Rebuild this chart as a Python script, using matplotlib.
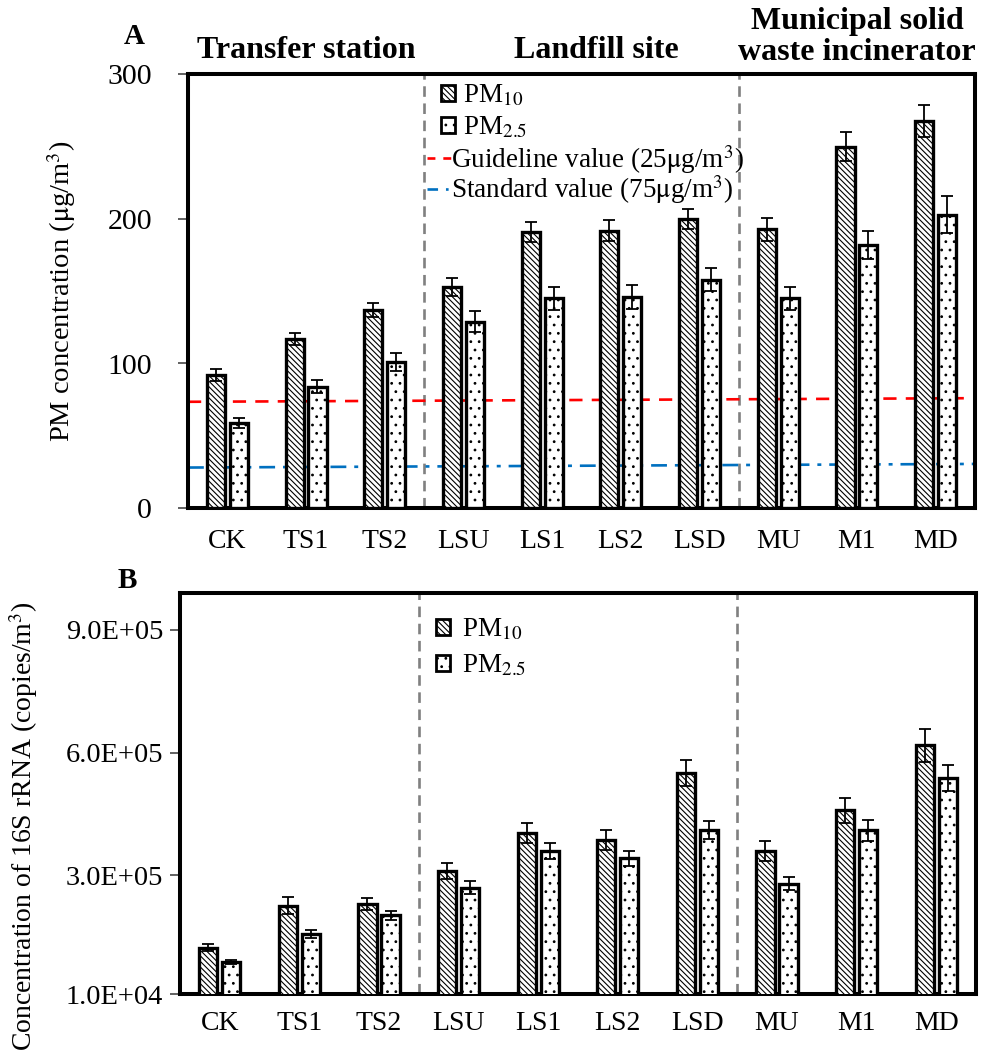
import matplotlib
matplotlib.use("Agg")
import matplotlib.pyplot as plt
import numpy as np
from matplotlib.patches import Patch
from matplotlib.lines import Line2D
from matplotlib.ticker import FixedLocator, FuncFormatter

plt.rcParams['font.family'] = ['Liberation Serif', 'DejaVu Serif']
plt.rcParams['mathtext.fontset'] = 'stix'
plt.rcParams['hatch.linewidth'] = 0.8

categories = ["CK", "TS1", "TS2", "LSU", "LS1", "LS2", "LSD", "MU", "M1", "MD"]

pm10_conc = [92, 117, 137, 153, 191, 192, 200, 193, 250, 268]
pm10_conc_err = [4, 4, 5, 6, 7, 7, 7, 8, 10, 11]
pm25_conc = [59, 84, 101, 129, 145, 146, 158, 145, 182, 203]
pm25_conc_err = [3.5, 4.5, 6, 7, 8, 8, 8, 8, 10, 13]

guideline_line = [73.5, 76]
standard_line = [28, 30.5]

pm10_rrna = [1.23e5, 2.26e5, 2.30e5, 3.10e5, 4.03e5, 3.86e5, 5.50e5, 3.60e5, 4.59e5, 6.18e5]
pm10_rrna_err = [8e3, 2e4, 1.5e4, 2e4, 2.5e4, 2.5e4, 3.2e4, 2.5e4, 3e4, 4e4]
pm25_rrna = [8.9e4, 1.56e5, 2.02e5, 2.70e5, 3.59e5, 3.42e5, 4.10e5, 2.80e5, 4.10e5, 5.38e5]
pm25_rrna_err = [5e3, 1e4, 1e4, 1.5e4, 2e4, 1.8e4, 2.2e4, 1.5e4, 2.5e4, 3.2e4]

rrna_ticks = [1.0e4, 3.0e5, 6.0e5, 9.0e5]

site_titles = ["Transfer station", "Landfill site", "Municipal solid\nwaste incinerator"]

W, H = 981, 1054
fig = plt.figure(figsize=(W / 100, H / 100), dpi=100)

def ax_rect(l, t, r, b):
    return [l / W, 1 - b / H, (r - l) / W, (b - t) / H]

def fpt(px, py):
    return (px / W, 1 - py / H)

axA = fig.add_axes(ax_rect(188, 74.5, 975, 508))
axB = fig.add_axes(ax_rect(180, 593, 976, 994))

x = np.arange(len(categories))
bw = 0.23
off = 0.145
HATCH10 = '\\\\\\\\\\\\'
HATCH25 = '..'

def draw_bars(ax, v10, e10, v25, e25, ypad, xpad):
    ax.bar(x - off, v10, bw, color='white', edgecolor='black', hatch=HATCH10, linewidth=2.4, zorder=3)
    ax.bar(x + off, v25, bw, color='white', edgecolor='black', hatch=HATCH25, linewidth=2.4, zorder=3)
    ax.errorbar(x - off, v10, yerr=e10, fmt='none', ecolor='black', elinewidth=1.3, capsize=4.3, capthick=1.3, zorder=4)
    ax.errorbar(x + off, v25, yerr=e25, fmt='none', ecolor='black', elinewidth=1.3, capsize=4.3, capthick=1.3, zorder=4)
    ax.set_xlim(-0.5, len(categories) - 0.5)
    ax.set_xticks(x)
    ax.set_xticklabels(categories, fontsize=20)
    ax.tick_params(axis='x', length=0, pad=xpad)
    ax.tick_params(axis='y', length=7, width=1.3, color='#555555', pad=ypad, direction='out')
    for sp in ax.spines.values():
        sp.set_linewidth(2.9)
    for xv in (2.5, 6.5):
        ax.axvline(xv, color='#808080', linestyle=(0, (4, 2.5)), linewidth=1.9, zorder=1)

# ---- Panel A ----
draw_bars(axA, pm10_conc, pm10_conc_err, pm25_conc, pm25_conc_err, 19, 15)
axA.set_ylim(0, 300)
axA.set_yticks([0, 100, 200, 300])
axA.tick_params(axis='y', labelsize=21.5)
axA.plot([-0.5, len(categories) - 0.5], guideline_line, color='#ff0000', linestyle=(0, (5, 3.5)), linewidth=1.9, zorder=2)
axA.plot([-0.5, len(categories) - 0.5], standard_line, color='#0070c0', linestyle=(0, (6, 3, 1.5, 3)), linewidth=1.9, zorder=2)
axA.set_ylabel(r"PM concentration ($\mathrm{\mu}$g/m$^3$)", fontsize=20.5)
axA.yaxis.set_label_coords((78 - 188) / 787, 0.5)

h10 = Patch(facecolor='white', edgecolor='black', hatch=HATCH10, linewidth=2.0)
h25 = Patch(facecolor='white', edgecolor='black', hatch=HATCH25, linewidth=2.0)
hg = Line2D([], [], color='#ff0000', linestyle=(0, (3, 3)), linewidth=1.9)
hs = Line2D([], [], color='#0070c0', linestyle=(0, (4, 3, 1, 3)), linewidth=1.9)

legA1 = axA.legend([h10, h25], [r"PM$_{10}$", r"PM$_{2.5}$"],
                   loc='upper left', bbox_to_anchor=fpt(441, 83), bbox_transform=fig.transFigure,
                   frameon=False, fontsize=19.5, handlelength=0.5, handleheight=0.5,
                   handletextpad=0.3, labelspacing=0.23, borderpad=0, borderaxespad=0)
axA.add_artist(legA1)
legA2 = axA.legend([hg, hs],
                   [r"Guideline value (25$\mathrm{\mu}$g/m$^3$)", r"Standard value (75$\mathrm{\mu}$g/m$^3$)"],
                   loc='upper left', bbox_to_anchor=fpt(427, 143), bbox_transform=fig.transFigure,
                   frameon=False, fontsize=19.5, handlelength=0.9, handletextpad=0.0,
                   labelspacing=-0.1, borderpad=0, borderaxespad=0)

# ---- Panel B ----
draw_bars(axB, pm10_rrna, pm10_rrna_err, pm25_rrna, pm25_rrna_err, 5, 12)
axB.set_ylim(1.0e4, 9.9e5)
axB.yaxis.set_major_locator(FixedLocator(rrna_ticks))
axB.yaxis.set_major_formatter(FuncFormatter(lambda v, p: ("%.1E" % v)))
axB.tick_params(axis='y', labelsize=20.5)
axB.set_ylabel(r"Concentration of 16S rRNA (copies/m$^3$)", fontsize=20)
axB.yaxis.set_label_coords((40 - 180) / 796, 0.42)
legB = axB.legend([h10, h25], [r"PM$_{10}$", r"PM$_{2.5}$"],
                  loc='upper left', bbox_to_anchor=fpt(436, 617), bbox_transform=fig.transFigure,
                  frameon=False, fontsize=19.5, handlelength=0.5, handleheight=0.5,
                  handletextpad=0.45, labelspacing=0.38, borderpad=0, borderaxespad=0)

# ---- Titles ----
fig.text(*fpt(134, 36), "A", fontsize=21, fontweight='bold', ha='center', va='center')
fig.text(*fpt(127, 580), "B", fontsize=21, fontweight='bold', ha='center', va='center')
fig.text(*fpt(306, 51), site_titles[0], fontsize=23, fontweight='bold', ha='center', va='center')
fig.text(*fpt(596, 51), site_titles[1], fontsize=23, fontweight='bold', ha='center', va='center')
fig.text(*fpt(857, 37), site_titles[2], fontsize=23, fontweight='bold', ha='center', va='center',
         linespacing=1.05)

fig.savefig("out.png", dpi=100)
